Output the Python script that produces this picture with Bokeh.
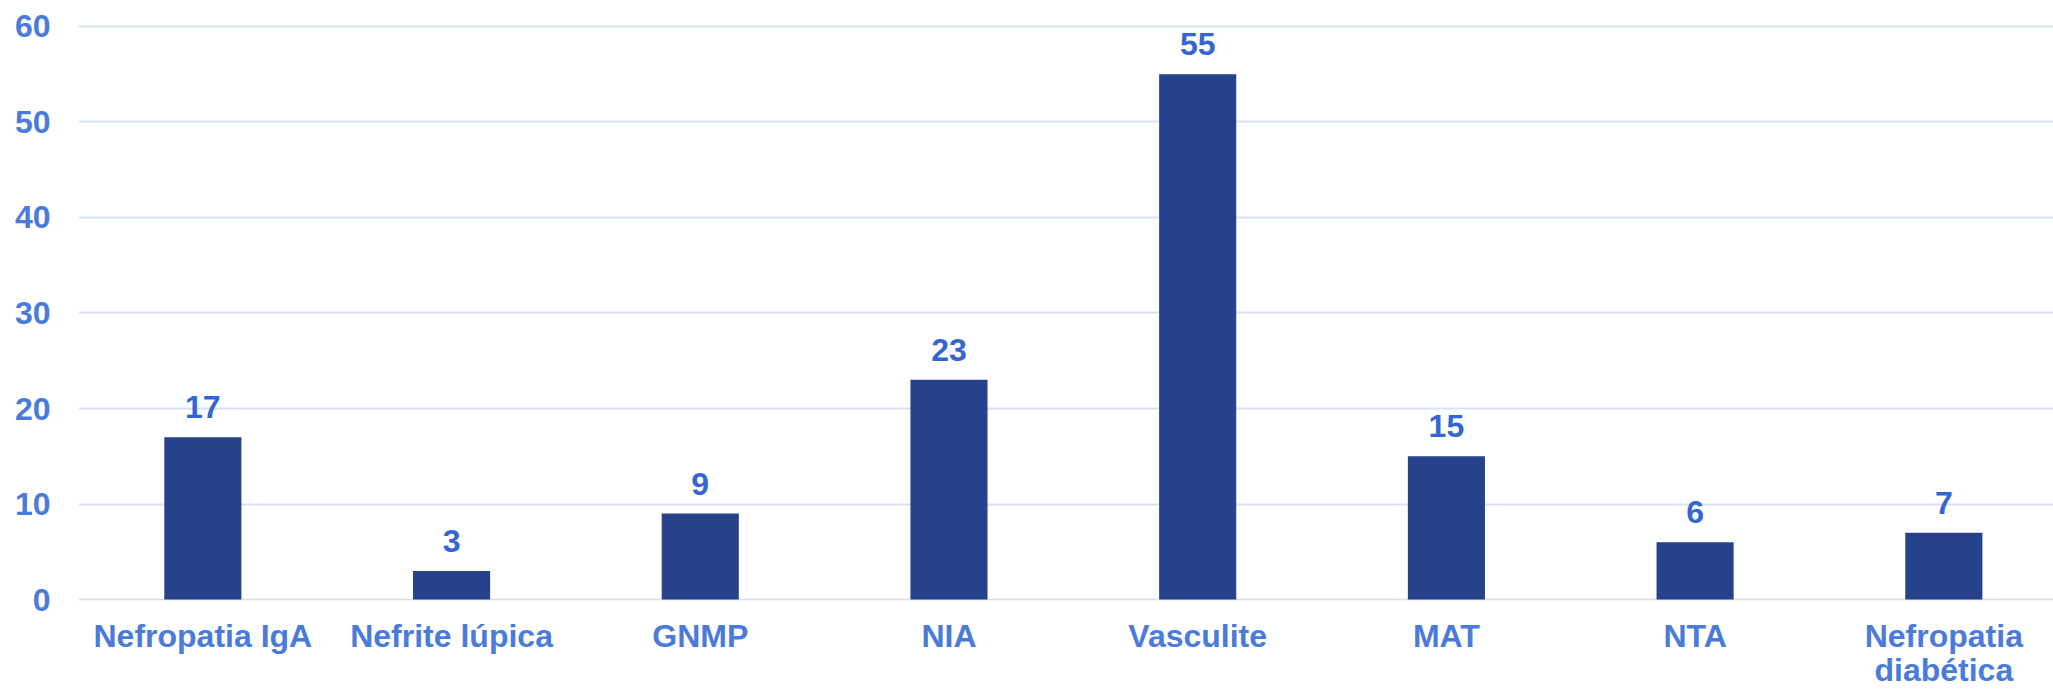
from bokeh.plotting import figure
from bokeh.models import ColumnDataSource, Range1d, FixedTicker
from bokeh.core.properties import value
from bokeh.embed import file_html
from bokeh.resources import INLINE

categories = ["Nefropatia IgA", "Nefrite lúpica", "GNMP", "NIA", "Vasculite",
              "MAT", "NTA", "Nefropatia\ndiabética"]
counts = [17, 3, 9, 23, 55, 15, 6, 7]
y_ticks = [0, 10, 20, 30, 40, 50, 60]

FONT = "Liberation Sans"
AXIS_COLOR = "#4A7BDB"
LABEL_COLOR = "#3366D3"
BAR_COLOR = "#25428A"
GRID_COLOR = "#D9E1F2"

xs = list(range(len(categories)))
src = ColumnDataSource(dict(x=xs, top=counts, label=[str(c) for c in counts]))

p = figure(width=2053, height=690, output_backend="svg", toolbar_location=None,
           x_range=Range1d(-0.5, 7.441), y_range=Range1d(-0.1, 60.2),
           min_border_left=78, min_border_right=0, min_border_top=24,
           min_border_bottom=88)
p.outline_line_color = None
p.background_fill_color = "white"
p.border_fill_color = "white"

p.vbar(x="x", top="top", bottom=0, width=0.31, source=src,
       fill_color=BAR_COLOR, line_color=None)

p.text(x="x", y="top", text="label", source=src, text_align="center",
       text_baseline="alphabetic", y_offset=-30,
       text_font=value(FONT), text_font_style="bold", text_font_size="32px",
       text_color=LABEL_COLOR)

# axes
p.xaxis.ticker = FixedTicker(ticks=xs)
p.xaxis.major_label_overrides = {i: c for i, c in enumerate(categories)}
p.yaxis.ticker = FixedTicker(ticks=y_ticks)
for ax in (p.xaxis[0], p.yaxis[0]):
    ax.axis_line_color = None
    ax.major_tick_line_color = None
    ax.minor_tick_line_color = None
    ax.major_tick_out = 0
    ax.major_tick_in = 0
    ax.minor_tick_out = 0
    ax.major_label_text_font = FONT
    ax.major_label_text_font_style = "bold"
    ax.major_label_text_font_size = "32px"
    ax.major_label_text_color = AXIS_COLOR
p.xaxis.major_label_text_line_height = 0.95
p.xaxis.major_label_standoff = 17
p.yaxis.major_label_standoff = 28

p.xgrid.grid_line_color = None
p.ygrid.grid_line_color = GRID_COLOR
p.ygrid.grid_line_width = 2
p.ygrid.ticker = FixedTicker(ticks=y_ticks)

open("out.html", "w").write(file_html(p, INLINE))
